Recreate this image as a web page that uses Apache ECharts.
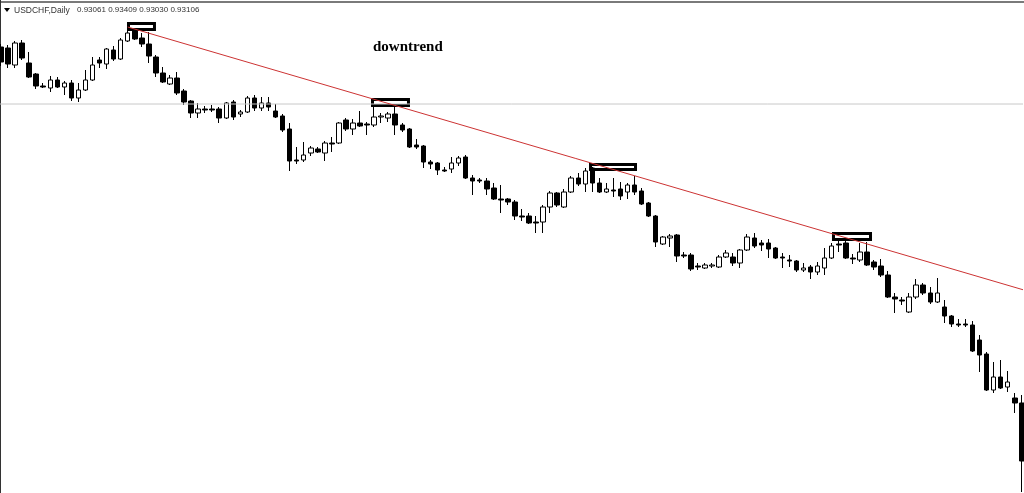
<!DOCTYPE html>
<html>
<head>
<meta charset="utf-8">
<title>USDCHF downtrend</title>
<script src="https://cdn.jsdelivr.net/npm/echarts@6/dist/echarts.min.js"></script>
<style>
  html, body { margin: 0; padding: 0; background: #fff; }
  #chart { width: 1024px; height: 493px; }
</style>
</head>
<body>
<div id="chart"></div>
<script>
// daily candles (oldest first)
var opens = [
  0.9753,0.9752,0.9735,0.9757,0.9737,0.9726,0.9714,0.9712,0.9720,0.9713,
  0.9717,0.9702,0.9710,0.9720,0.9740,0.9736,0.9750,0.9741,0.9759,0.9770,
  0.9762,0.9756,0.9743,0.9727,0.9716,0.9722,0.9709,0.9699,0.9687,0.9691,
  0.9691,0.9691,0.9682,0.9698,0.9686,0.9688,0.9702,0.9692,0.9697,0.9689,
  0.9684,0.9671,0.9640,0.9640,0.9647,0.9651,0.9647,0.9657,0.9657,0.9680,
  0.9671,0.9677,0.9676,0.9675,0.9683,0.9682,0.9686,0.9675,0.9671,0.9655,
  0.9654,0.9638,0.9637,0.9630,0.9631,0.9637,0.9643,0.9622,0.9620,0.9619,
  0.9612,0.9601,0.9601,0.9598,0.9584,0.9584,0.9578,0.9578,0.9593,0.9607,
  0.9593,0.9608,0.9622,0.9616,0.9632,0.9617,0.9608,0.9610,0.9611,0.9608,
  0.9615,0.9609,0.9597,0.9584,0.9556,0.9562,0.9565,0.9545,0.9545,0.9534,
  0.9532,0.9534,0.9533,0.9543,0.9543,0.9537,0.9550,0.9562,0.9557,0.9557,
  0.9552,0.9543,0.9540,0.9539,0.9530,0.9533,0.9528,0.9532,0.9542,0.9556,
  0.9557,0.9542,0.9540,0.9548,0.9538,0.9534,0.9525,0.9503,0.9500,0.9488,
  0.9503,0.9515,0.9507,0.9498,0.9493,0.9484,0.9476,0.9476,0.9475,0.9460,
  0.9446,0.9410,0.9423,0.9413,0.9402,0.9397
];
var closes = [
  0.9738,0.9736,0.9757,0.9742,0.9723,0.9714,0.9713,0.9720,0.9713,0.9717,
  0.9702,0.9710,0.9720,0.9735,0.9737,0.9751,0.9741,0.9760,0.9767,0.9761,
  0.9756,0.9744,0.9727,0.9718,0.9722,0.9707,0.9698,0.9687,0.9691,0.9690,
  0.9690,0.9682,0.9697,0.9683,0.9688,0.9702,0.9692,0.9697,0.9693,0.9683,
  0.9670,0.9639,0.9639,0.9645,0.9652,0.9648,0.9657,0.9656,0.9677,0.9671,
  0.9677,0.9674,0.9675,0.9683,0.9684,0.9686,0.9675,0.9670,0.9653,0.9653,
  0.9638,0.9636,0.9630,0.9629,0.9637,0.9642,0.9622,0.9619,0.9619,0.9611,
  0.9601,0.9600,0.9598,0.9584,0.9583,0.9577,0.9577,0.9593,0.9607,0.9595,
  0.9608,0.9622,0.9616,0.9629,0.9617,0.9608,0.9611,0.9609,0.9604,0.9615,
  0.9608,0.9596,0.9584,0.9558,0.9563,0.9564,0.9544,0.9544,0.9531,0.9533,
  0.9535,0.9535,0.9543,0.9547,0.9537,0.9550,0.9563,0.9554,0.9555,0.9551,
  0.9542,0.9542,0.9539,0.9530,0.9532,0.9528,0.9534,0.9542,0.9554,0.9555,
  0.9542,0.9541,0.9548,0.9535,0.9533,0.9525,0.9503,0.9501,0.9499,0.9503,
  0.9515,0.9507,0.9498,0.9507,0.9484,0.9476,0.9475,0.9475,0.9449,0.9445,
  0.9410,0.9423,0.9412,0.9418,0.9397,0.9339
];
var lows = [
  0.9734,0.9732,0.9732,0.9740,0.9722,0.9711,0.9712,0.9708,0.9712,0.9705,
  0.9699,0.9698,0.9709,0.9719,0.9732,0.9731,0.9739,0.9740,0.9758,0.9760,
  0.9753,0.9737,0.9723,0.9717,0.9715,0.9705,0.9695,0.9682,0.9682,0.9687,
  0.9688,0.9677,0.9681,0.9680,0.9683,0.9687,0.9689,0.9689,0.9689,0.9682,
  0.9668,0.9629,0.9636,0.9638,0.9644,0.9647,0.9639,0.9648,0.9656,0.9669,
  0.9665,0.9673,0.9665,0.9673,0.9677,0.9678,0.9665,0.9668,0.9652,0.9651,
  0.9632,0.9631,0.9625,0.9628,0.9627,0.9634,0.9621,0.9605,0.9617,0.9605,
  0.9600,0.9587,0.9595,0.9580,0.9579,0.9576,0.9567,0.9567,0.9587,0.9593,
  0.9592,0.9607,0.9614,0.9608,0.9608,0.9607,0.9607,0.9603,0.9600,0.9601,
  0.9605,0.9595,0.9583,0.9553,0.9555,0.9553,0.9538,0.9542,0.9529,0.9530,
  0.9531,0.9532,0.9532,0.9542,0.9534,0.9532,0.9549,0.9552,0.9549,0.9542,
  0.9541,0.9532,0.9533,0.9528,0.9528,0.9521,0.9525,0.9525,0.9541,0.9548,
  0.9541,0.9536,0.9538,0.9534,0.9530,0.9523,0.9502,0.9487,0.9495,0.9487,
  0.9501,0.9505,0.9496,0.9497,0.9477,0.9473,0.9473,0.9473,0.9448,0.9428,
  0.9409,0.9407,0.9411,0.9408,0.9387,0.9308
];
var highs = [
  0.9756,0.9755,0.9759,0.9760,0.9748,0.9727,0.9717,0.9724,0.9723,0.9719,
  0.9720,0.9717,0.9730,0.9743,0.9743,0.9752,0.9754,0.9762,0.9769,0.9772,
  0.9767,0.9768,0.9745,0.9733,0.9725,0.9728,0.9711,0.9700,0.9697,0.9694,
  0.9695,0.9693,0.9698,0.9700,0.9690,0.9704,0.9705,0.9703,0.9703,0.9696,
  0.9686,0.9677,0.9653,0.9658,0.9654,0.9653,0.9659,0.9663,0.9678,0.9682,
  0.9681,0.9689,0.9678,0.9693,0.9687,0.9688,0.9695,0.9677,0.9672,0.9661,
  0.9655,0.9640,0.9638,0.9633,0.9643,0.9644,0.9645,0.9625,0.9622,0.9622,
  0.9617,0.9615,0.9602,0.9600,0.9591,0.9587,0.9584,0.9595,0.9609,0.9608,
  0.9611,0.9624,0.9627,0.9632,0.9633,0.9622,0.9617,0.9622,0.9618,0.9617,
  0.9624,0.9612,0.9598,0.9585,0.9564,0.9566,0.9566,0.9548,0.9547,0.9537,
  0.9537,0.9537,0.9545,0.9550,0.9547,0.9551,0.9566,0.9567,0.9560,0.9561,
  0.9553,0.9547,0.9545,0.9540,0.9537,0.9535,0.9538,0.9552,0.9557,0.9559,
  0.9559,0.9546,0.9557,0.9558,0.9540,0.9541,0.9529,0.9507,0.9503,0.9507,
  0.9521,0.9517,0.9513,0.9522,0.9500,0.9485,0.9481,0.9481,0.9479,0.9465,
  0.9448,0.9438,0.9440,0.9429,0.9407,0.9405
];

// chart annotations (candle index, price)
var trendLine = [[18.0, 0.9773], [145.3, 0.9510]];
var resistLevel = 0.9696;
var peakBoxes = [
  [[18.11, 0.97765], [21.80, 0.97705]],
  [[52.77, 0.97005], [57.88, 0.96945]],
  [[83.74, 0.96355], [90.13, 0.96305]],
  [[118.25, 0.95665], [123.51, 0.95605]]
];
var header = 'USDCHF,Daily';
var lastQuote = ['0.93061', '0.93409', '0.93030', '0.93106'];

var days = opens.map(function (v, i) { return i; });
var candles = opens.map(function (o, i) {
  return [o, closes[i], lows[i], highs[i]];
});

var chart = echarts.init(document.getElementById('chart'));
chart.setOption({
  animation: false,
  backgroundColor: '#fff',
  grid: { left: 1, right: 2.2, top: 0, bottom: 0 },
  xAxis: [
    { type: 'category', data: days, boundaryGap: false, show: false },
    { type: 'value', min: 0, max: days.length - 1, show: false }
  ],
  yAxis: { type: 'value', min: 0.9307, max: 0.98, show: false },
  graphic: [
    // window frame
    { type: 'line', shape: { x1: 0, y1: 2, x2: 1024, y2: 2 },
      style: { stroke: '#7a7a7a', lineWidth: 2 } },
    { type: 'line', shape: { x1: 0.5, y1: 0, x2: 0.5, y2: 493 },
      style: { stroke: '#333', lineWidth: 1 } },
    { type: 'polygon', shape: { points: [[4, 8], [10, 8], [7, 12]] },
      style: { fill: '#000' } },
    { type: 'text', x: 14, y: 6,
      style: { text: header, font: '8.5px "Liberation Sans"', fill: '#333' } },
    { type: 'text', x: 77, y: 6,
      style: { text: lastQuote.join(' '), font: '8px "Liberation Sans"', fill: '#333' } },
    { type: 'text', x: 373, y: 40,
      style: { text: 'downtrend', font: 'bold 15px "Liberation Serif"', fill: '#000' } }
  ],
  series: [
    {
      type: 'candlestick',
      data: candles,
      barWidth: 5,
      itemStyle: {
        color: '#fff',
        color0: '#000',
        borderColor: '#000',
        borderColor0: '#000',
        borderWidth: 1
      }
    },
    {
      // horizontal level
      type: 'line',
      xAxisIndex: 1,
      data: [[-1, resistLevel], [days.length, resistLevel]],
      symbol: 'none',
      clip: false,
      lineStyle: { color: '#c8c8c8', width: 1 }
    },
    {
      // trend line + boxes on the swing highs
      type: 'line',
      xAxisIndex: 1,
      data: trendLine,
      symbol: 'none',
      clip: false,
      lineStyle: { color: '#cc3333', width: 1 },
      markArea: {
        silent: true,
        itemStyle: { color: 'rgba(0,0,0,0)', borderColor: '#000', borderWidth: 3 },
        data: peakBoxes.map(function (b) {
          return [{ coord: b[0] }, { coord: b[1] }];
        })
      }
    }
  ]
});
</script>
</body>
</html>
